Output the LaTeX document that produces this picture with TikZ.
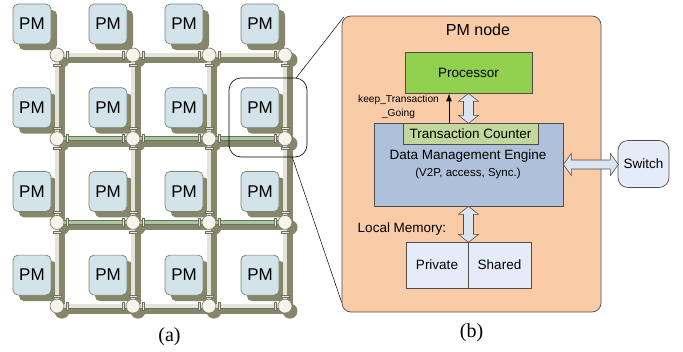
\documentclass[tikz,border=0pt]{standalone}
\usepackage{fontspec}
\setmainfont{Liberation Sans}
\newfontfamily\capfont{Liberation Serif}
\usetikzlibrary{calc,arrows.meta}

\definecolor{pmfill}{HTML}{D2E3E9}
\definecolor{pmedge}{HTML}{7A8474}
\definecolor{meshshade}{HTML}{86866B}
\definecolor{tubeedge}{HTML}{6F705E}
\definecolor{tubefill}{HTML}{E4E4DA}
\definecolor{tubegreen}{HTML}{A6C7A0}
\definecolor{routerfill}{HTML}{F5F3EA}
\definecolor{routeredge}{HTML}{74756A}
\definecolor{peach}{HTML}{F9CBA7}
\definecolor{procgreen}{HTML}{92D050}
\definecolor{counteroliv}{HTML}{C3D69B}
\definecolor{engineblue}{HTML}{AFC1DA}
\definecolor{paleblue}{HTML}{E6ECF7}
\definecolor{arrowblue}{HTML}{DBE5F1}
\definecolor{boxedge}{HTML}{4D4D4D}

\tikzset{
  pmbox/.style={draw=pmedge, fill=pmfill, rounded corners=5pt, line width=0.7pt,
    minimum width=38pt, minimum height=40pt, inner sep=0pt,
    font=\fontsize{17}{17}\selectfont},
  pmshadow/.style={fill=meshshade, rounded corners=5pt,
    minimum width=38pt, minimum height=40pt, inner sep=0pt},
  router/.style={circle, draw=routeredge, fill=routerfill, line width=0.6pt,
    minimum size=14pt, inner sep=0pt},
  routershadow/.style={circle, fill=meshshade, minimum size=15pt, inner sep=0pt},
  tube/.style={draw=tubeedge, line width=0.7pt, double distance=3.5pt},
  tubeshadow/.style={draw=meshshade, line width=6pt},
  tubecap/.style={draw=tubeedge, fill=tubefill, line width=0.5pt},
  blockbox/.style={draw=boxedge, line width=0.7pt, inner sep=0pt},
  label13/.style={font=\fontsize{13.5}{15}\selectfont, inner sep=0pt},
  fatarrow/.style={draw=boxedge, fill=arrowblue, line width=0.6pt, line join=miter},
}

\begin{document}
\begin{tikzpicture}[x=1pt,y=-1pt]
\useasboundingbox (0,0) rectangle (683,351);

% ---------------- (a) the 4x4 mesh ----------------
% router positions and shadows of the PM tiles
\foreach \i in {0,...,3}{
  \foreach \j in {0,...,3}{
    \coordinate (rc-\i-\j) at ({57+76*\i},{55+83.7*\j});
    \node[pmshadow] (pmsh-\i-\j) at ({38+76*\i},{30+83.7*\j}) {};
  }
}
% shadows of the links and routers
\foreach \a/\b in {0/1,1/2,2/3}{
  \foreach \j in {0,...,3}{
    \draw[tubeshadow] ($(rc-\a-\j)+(5,5)$) -- ($(rc-\b-\j)+(5,5)$);
    \draw[tubeshadow] ($(rc-\j-\a)+(5,5)$) -- ($(rc-\j-\b)+(5,5)$);
  }
}
\foreach \i in {0,...,3}{
  \foreach \j in {0,...,3}{
    \node[routershadow] (rsh-\i-\j) at ($(rc-\i-\j)+(5,5)$) {};
  }
}
% links, with small end flanges next to the routers
\foreach \a/\b in {0/1,1/2,2/3}{
  \foreach \j/\col in {0/tubefill,1/tubegreen,2/tubegreen,3/tubefill}{
    \draw[tube, double=\col] (rc-\a-\j) -- (rc-\b-\j);
    \draw[tubecap] ($(rc-\a-\j)+(9,-4)$) rectangle ++(2,8);
    \draw[tubecap] ($(rc-\b-\j)+(-11,-4)$) rectangle ++(2,8);
  }
  \foreach \j in {0,...,3}{
    \draw[tube, double=tubefill] (rc-\j-\a) -- (rc-\j-\b);
    \draw[tubecap] ($(rc-\j-\a)+(-4,9)$) rectangle ++(8,2);
    \draw[tubecap] ($(rc-\j-\b)+(-4,-11)$) rectangle ++(8,2);
  }
}
% routers and PM tiles
\foreach \i in {0,...,3}{
  \foreach \j in {0,...,3}{
    \node[router] (r-\i-\j) at (rc-\i-\j) {};
    \node[pmbox] (pm-\i-\j) at ({32+76*\i},{24+83.7*\j}) {PM};
  }
}

% magnifier around one tile
\node[draw=black, line width=0.6pt, rounded corners=12pt, minimum width=78pt,
  minimum height=79pt, inner sep=0pt] (mag) at (268,117.5) {};

\node[font=\capfont\fontsize{20}{20}\selectfont, inner sep=0pt]
  (capa) at (169.5,337) {(a)};

% ---------------- (b) inside a PM node ----------------
\node[draw=boxedge, fill=peach, line width=0.7pt, rounded corners=9pt,
  minimum width=259pt, minimum height=296pt, inner sep=0pt] (node) at (471.5,164) {};

\draw[line width=0.5pt] ($(mag.north east)+(-11,0)$) -- ($(node.north west)+(2,1.5)$);
\draw[line width=0.5pt] ($(mag.south east)+(-15,0)$) -- ($(node.south west)+(0,-10)$);

\node[font=\fontsize{16}{16}\selectfont, inner sep=0pt] (title) at (478,30) {PM node};

\node[blockbox, fill=procgreen, minimum width=127pt, minimum height=41pt,
  label13] (proc) at (468.5,72.5) {Processor};

\node[blockbox, fill=engineblue, minimum width=189pt, minimum height=83pt]
  (dme) at (468.5,164.5) {};
\node[blockbox, fill=counteroliv, minimum width=135pt, minimum height=21pt,
  label13] (tc) at (470.5,133.5) {Transaction Counter};
\node[label13] (dmetext) at (468,156) {Data Management Engine};
\node[font=\fontsize{11.5}{13}\selectfont, inner sep=0pt] (dmesub) at (468,174)
  {(V2P, access, Sync.)};

\node[draw=boxedge, fill=paleblue, line width=0.7pt, rounded corners=10pt,
  minimum width=51pt, minimum height=47pt, inner sep=0pt, label13]
  (switch) at (643.5,164) {Switch};

\node[blockbox, fill=paleblue, minimum width=62pt, minimum height=46pt, label13]
  (priv) at (437,265) {Private};
\node[blockbox, fill=paleblue, minimum width=63pt, minimum height=46pt, label13]
  (shared) at (499.5,265) {Shared};
\node[label13] (locmem) at (402,229) {Local Memory:};

% keep_Transaction_Going signal
\coordinate (kx) at (449,0);
\draw[line width=1pt, -{Latex[length=8pt,width=6pt]}] (kx |- tc.north) -- (kx |- proc.south);
\node[font=\fontsize{10.2}{14}\selectfont, align=center, inner sep=0pt]
  (keeplbl) at (398.5,107) {keep\_Transaction\\\_Going};

% wide two-headed arrows
\draw[fatarrow] (proc.south) -- ++(10,8) -- ++(-5,0) -- ++(0,14) -- ++(5,0)
  -- ++(-10,8) -- ++(-10,-8) -- ++(5,0) -- ++(0,-14) -- ++(-5,0) -- cycle;
\draw[fatarrow] (dme.south) -- ++(10,8) -- ++(-5,0) -- ++(0,20) -- ++(5,0)
  -- ++(-10,8) -- ++(-10,-8) -- ++(5,0) -- ++(0,-20) -- ++(-5,0) -- cycle;
\draw[fatarrow] (dme.east) -- ++(8,-11) -- ++(0,6.5) -- ++(39,0) -- ++(0,-6.5)
  -- ++(8,11) -- ++(-8,11) -- ++(0,-6.5) -- ++(-39,0) -- ++(0,6.5) -- cycle;

\node[font=\capfont\fontsize{20}{20}\selectfont, inner sep=0pt]
  (capb) at (471.5,333) {(b)};
\end{tikzpicture}
\end{document}
